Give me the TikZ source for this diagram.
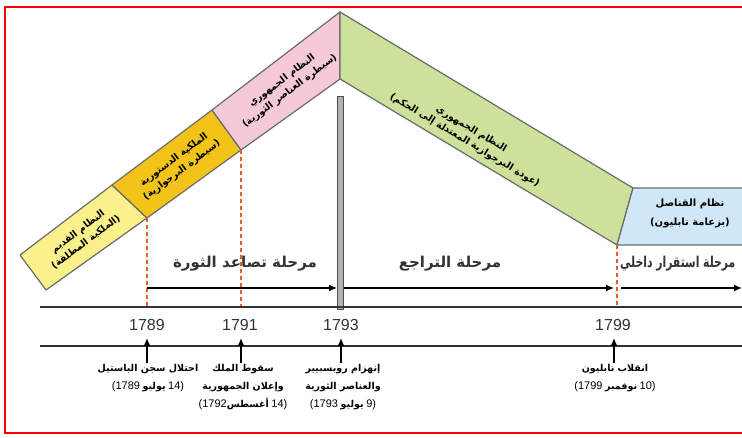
\documentclass[tikz,border=0pt]{standalone}
\usepackage{fontspec}
\usepackage{graphicx}
\setmainfont{Liberation Sans}
\newfontfamily\arfont[Script=Arabic]{DejaVu Sans}
\TeXXeTstate=1
\usetikzlibrary{arrows.meta}
\newcommand\AR[1]{{\arfont\beginR #1\endR}}
\newcommand\NUM[1]{{\mdseries\fontsize{11}{13}\selectfont #1}}
\definecolor{lyel}{HTML}{FAF08C}
\definecolor{ochre}{HTML}{F2C318}
\definecolor{pinkb}{HTML}{F6C9D9}
\definecolor{greenb}{HTML}{CDE19B}
\definecolor{blueb}{HTML}{CFE7F7}
\definecolor{edgec}{HTML}{6B6B6B}
\definecolor{dashred}{HTML}{EE5A2A}
\definecolor{txtg}{HTML}{333333}
\tikzset{
  band/.style={draw=edgec, line width=1.2pt, line join=round},
  boxtxt/.style={align=center, font=\bfseries\fontsize{9.5}{13}\selectfont, inner sep=0pt},
  phase/.style={font=\bfseries\fontsize{15}{17}\selectfont, text=txtg, inner sep=0pt},
  year/.style={font=\fontsize{16}{18}\selectfont, text=txtg, inner sep=0pt},
  evt/.style={align=center, font=\bfseries\fontsize{9.5}{18}\selectfont, inner sep=0pt},
  tline/.style={line width=1.8pt, draw=black!80},
  parrow/.style={line width=1.4pt, -{Latex[length=8pt,width=7pt]}},
  uparrow/.style={line width=1.4pt, -{Latex[length=8pt,width=7pt]}},
  rdash/.style={draw=dashred, line width=1.4pt, dash pattern=on 4pt off 3pt}
}
\begin{document}
\begin{tikzpicture}[x=1pt,y=-1pt]
\clip (0,0) rectangle (742,438);
\fill[white] (0,0) rectangle (742,438);
% frame
\draw[red, line width=2.6pt] (5,7) rectangle (760,433);
% bands
\draw[band, fill=lyel] (20,255) -- (112,185) -- (147,218) -- (46,290) -- cycle;
\draw[band, fill=ochre] (112,185) -- (212,110) -- (241,150) -- (147,218) -- cycle;
\draw[band, fill=pinkb] (212,110) -- (340,12) -- (340,79) -- (241,150) -- cycle;
\draw[band, fill=greenb] (340,12) -- (633,188) -- (617,245) -- (340,79) -- cycle;
\draw[band, fill=blueb] (633,188) -- (760,188) -- (760,245) -- (617,245) -- cycle;
% band texts
\node[boxtxt, rotate=37] (t1) at (82,237) {\AR{النظام القديم}\\\AR{(الملكية المطلقة)}};
\node[boxtxt, rotate=37] (t2) at (178,165) {\AR{الملكية الدستورية}\\\AR{(سيطرة البرجوازية)}};
\node[boxtxt, rotate=37] (t3) at (286,86) {\AR{النظام الجمهوري}\\\AR{(سيطرة العناصر الثورية)}};
\node[boxtxt, rotate=-31] (t4) at (468,135) {\AR{النظام الجمهوري}\\\AR{(عودة البرجوازية المعتدلة إلى الحكم)}};
\node[boxtxt, font=\bfseries\fontsize{10}{19}\selectfont] (t5) at (690,213) {\AR{نظام القناصل}\\\AR{(بزعامة نابليون)}};
% gray bar
\draw[draw=black!70, fill=black!30, line width=0.8pt] (337.5,96) rectangle (343,309);
% dashed red lines
\coordinate (d1a) at (147,218); \coordinate (d1b) at (147,307);
\coordinate (d2a) at (241,150); \coordinate (d2b) at (241,307);
\coordinate (d3a) at (617,245); \coordinate (d3b) at (617,307);
\draw[rdash] (d1a) -- (d1b);
\draw[rdash] (d2a) -- (d2b);
\draw[rdash] (d3a) -- (d3b);
% phase arrows
\coordinate (a1s) at (147,288); \coordinate (a1e) at (337,288);
\coordinate (a2s) at (344,288); \coordinate (a2e) at (614,288);
\coordinate (a3s) at (621,288); \coordinate (a3e) at (742,288);
\draw[parrow] (a1s) -- (a1e);
\draw[parrow] (a2s) -- (a2e);
\draw[parrow] (a3s) -- (a3e);
% phase labels
\node[phase] (p1) at (245,264) {\AR{مرحلة تصاعد الثورة}};
\node[phase] (p2) at (450,264) {\AR{مرحلة التراجع}};
\node[phase, anchor=west] (p3) at (620,264) {\scalebox{0.72}[1]{\AR{مرحلة استقرار داخلي}}};
% timeline
\coordinate (l1s) at (40,307); \coordinate (l1e) at (742,307);
\coordinate (l2s) at (40,346); \coordinate (l2e) at (742,346);
\draw[tline] (l1s) -- (l1e);
\draw[tline] (l2s) -- (l2e);
% years
\node[year] (y1) at (147,325) {1789};
\node[year] (y2) at (240,325) {1791};
\node[year] (y3) at (341,325) {1793};
\node[year] (y4) at (613,325) {1799};
% up arrows
\coordinate (u1) at (147,363); \coordinate (u2) at (241,363);
\coordinate (u3) at (341,363); \coordinate (u4) at (614,363);
\coordinate (v1) at (147,338); \coordinate (v2) at (241,338);
\coordinate (v3) at (341,338); \coordinate (v4) at (614,338);
\draw[uparrow] (u1) -- (v1);
\draw[uparrow] (u2) -- (v2);
\draw[uparrow] (u3) -- (v3);
\draw[uparrow] (u4) -- (v4);
% events
\node[evt, anchor=north] (e1) at (148,364) {\AR{احتلال سجن الباستيل}\\\NUM{(1789} \AR{يوليو} \NUM{14)}};
\node[evt, anchor=north] (e2) at (243,364) {\AR{سقوط الملك}\\\AR{وإعلان الجمهورية}\\\NUM{(1792}\AR{أغسطس} \NUM{14)}};
\node[evt, anchor=north] (e3) at (343,364) {\AR{إنهزام روبسبيير}\\\AR{والعناصر الثورية}\\\NUM{(1793} \AR{يوليو} \NUM{9)}};
\node[evt, anchor=north] (e4) at (615,364) {\AR{انقلاب نابليون}\\\NUM{(1799} \AR{نوفمبر} \NUM{10)}};
\end{tikzpicture}
\end{document}
